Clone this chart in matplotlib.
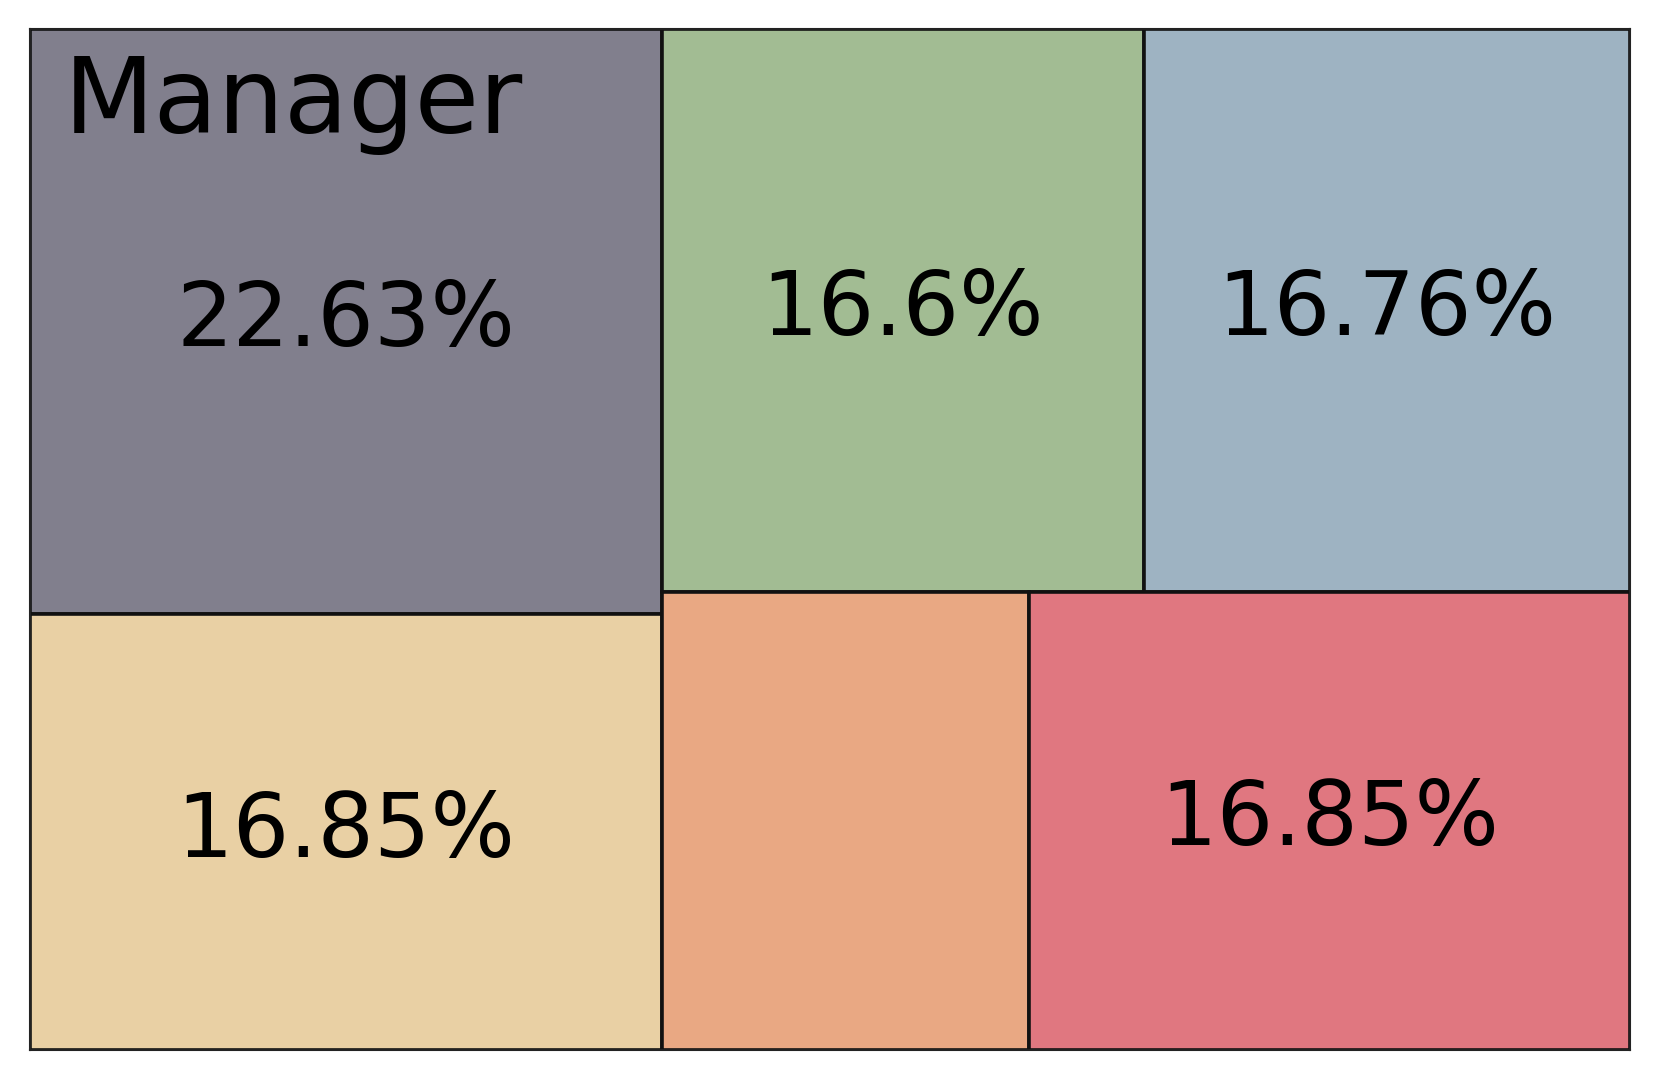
import matplotlib
matplotlib.use("Agg")
import matplotlib.pyplot as plt
from matplotlib.patches import Rectangle

# share of each block, in drawing order
values = [22.63, 16.85, 16.6, 16.76, 10.31, 16.85]
labels = ["22.63%", "16.85%", "16.6%", "16.76%", "", "16.85%"]
colors = ["#817F8D", "#E9D0A4", "#A2BC93", "#9EB3C2", "#E9A883", "#E07780"]
title = "Manager"


def worst(row, w):
    s = sum(row)
    return max(max(w * w * r / (s * s), s * s / (w * w * r)) for r in row)


def squarify(sizes, x, y, dx, dy):
    # plain squarified treemap, returns (x, y, w, h) per size
    rects = []
    sizes = list(sizes)
    while sizes:
        if len(sizes) == 1:
            rects.append((x, y, dx, dy))
            break
        w = min(dx, dy)
        i = 1
        while i < len(sizes) and worst(sizes[:i + 1], w) <= worst(sizes[:i], w):
            i += 1
        row = sizes[:i]
        s = sum(row)
        if dx >= dy:
            cw = s / dy
            yy = y
            for r in row:
                rects.append((x, yy, cw, r / cw))
                yy += r / cw
            x += cw
            dx -= cw
        else:
            rh = s / dx
            xx = x
            for r in row:
                rects.append((xx, y, r / rh, rh))
                xx += r / rh
            y += rh
            dy -= rh
        sizes = sizes[i:]
    return rects


fig = plt.figure(figsize=(16.6, 10.8), dpi=100)
ax = fig.add_axes([0.0180, 0.0278, 0.9640, 0.9449])
W = 16.6 * 0.9640
H = 10.8 * 0.9449
total = sum(values)
areas = [v / total * W * H for v in values]
rects = squarify(areas, 0, 0, W, H)

for (x, y, w, h), c, lab in zip(rects, colors, labels):
    ax.add_patch(Rectangle((x, y), w, h, facecolor=c, edgecolor="#111111", lw=2.6))
    if lab:
        ax.text(x + w / 2, y + h / 2, lab, ha="center", va="center", fontsize=64)

ax.set_xlim(0, W)
ax.set_ylim(H, 0)
ax.set_xticks([])
ax.set_yticks([])
for sp in ax.spines.values():
    sp.set_linewidth(1.5)
    sp.set_color("#222222")

ax.text(0.021, 0.977, title, transform=ax.transAxes, ha="left", va="top", fontsize=75.5)

fig.savefig("out.png", dpi=100)
